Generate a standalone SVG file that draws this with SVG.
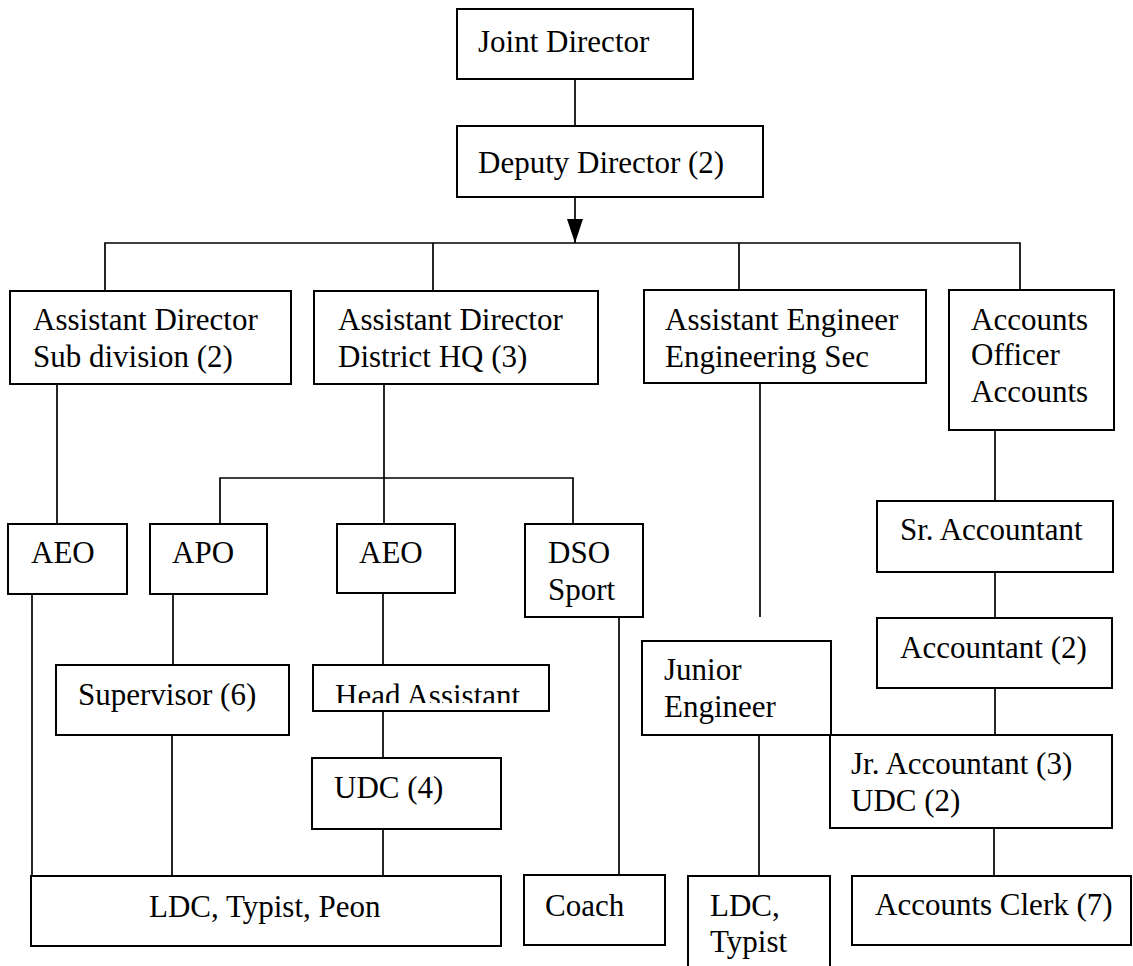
<svg xmlns="http://www.w3.org/2000/svg" width="1133" height="966" viewBox="0 0 1133 966">
<style>
.box{fill:#fff;stroke:#000;stroke-width:2}
.t{font-family:"Liberation Serif","Times New Roman",serif;font-size:31px;fill:#000}
.c{fill:none;stroke:#000;stroke-width:1.7}
</style>
<defs>
<marker id="arr" viewBox="0 0 24 16" refX="24" refY="8" markerWidth="24" markerHeight="16" markerUnits="userSpaceOnUse" orient="auto">
<path d="M0,0 L24,8 L0,16 z" fill="#000"/>
</marker>
<clipPath id="haclip"><rect x="313" y="665" width="236" height="38"/></clipPath>
</defs>
<rect width="1133" height="966" fill="#fff"/>
<g id="connectors">
<path class="c" d="M575,79 V126"/>
<path class="c" d="M575,197 V243" marker-end="url(#arr)"/>
<path class="c" d="M105,291 V243 H1020 V290"/>
<path class="c" d="M433,243 V291"/>
<path class="c" d="M739,243 V290"/>
<path class="c" d="M57,384 V524"/>
<path class="c" d="M384,384 V524"/>
<path class="c" d="M220,524 V478 H573 V524"/>
<path class="c" d="M760,383 V617"/>
<path class="c" d="M995,430 V501"/>
<path class="c" d="M995,572 V618"/>
<path class="c" d="M995,688 V735"/>
<path class="c" d="M994,828 V876"/>
<path class="c" d="M32,594 V876"/>
<path class="c" d="M173,594 V665"/>
<path class="c" d="M172,735 V876"/>
<path class="c" d="M383,593 V665"/>
<path class="c" d="M383,711 V758"/>
<path class="c" d="M383,829 V876"/>
<path class="c" d="M619,617 V875"/>
<path class="c" d="M759,735 V876"/>
</g>
<g id="joint-director"><rect class="box" x="457" y="9" width="236" height="70"/><text class="t" x="478" y="52">Joint Director</text></g>
<g id="deputy-director"><rect class="box" x="457" y="126" width="306" height="71"/><text class="t" x="478" y="173">Deputy Director (2)</text></g>
<g id="ad-subdivision"><rect class="box" x="10" y="291" width="281" height="93"/><text class="t" x="33" y="330">Assistant Director</text><text class="t" x="33" y="367">Sub division (2)</text></g>
<g id="ad-district"><rect class="box" x="314" y="291" width="284" height="93"/><text class="t" x="338" y="330">Assistant Director</text><text class="t" x="338" y="367">District HQ (3)</text></g>
<g id="ae-engineering"><rect class="box" x="644" y="290" width="282" height="93"/><text class="t" x="665" y="330">Assistant Engineer</text><text class="t" x="665" y="367">Engineering Sec</text></g>
<g id="accounts-officer"><rect class="box" x="949" y="290" width="165" height="140"/><text class="t" x="971" y="330">Accounts</text><text class="t" x="971" y="365">Officer</text><text class="t" x="971" y="402">Accounts</text></g>
<g id="aeo-1"><rect class="box" x="8" y="524" width="119" height="70"/><text class="t" x="31" y="563">AEO</text></g>
<g id="apo"><rect class="box" x="150" y="524" width="117" height="70"/><text class="t" x="172" y="563">APO</text></g>
<g id="aeo-2"><rect class="box" x="337" y="524" width="118" height="69"/><text class="t" x="359" y="563">AEO</text></g>
<g id="dso-sport"><rect class="box" x="525" y="524" width="118" height="93"/><text class="t" x="548" y="563">DSO</text><text class="t" x="548" y="600">Sport</text></g>
<g id="sr-accountant"><rect class="box" x="877" y="501" width="236" height="71"/><text class="t" x="900" y="540">Sr. Accountant</text></g>
<g id="accountant"><rect class="box" x="877" y="618" width="235" height="70"/><text class="t" x="900" y="658">Accountant (2)</text></g>
<g id="supervisor"><rect class="box" x="56" y="665" width="233" height="70"/><text class="t" x="78" y="705">Supervisor (6)</text></g>
<g id="head-assistant"><rect class="box" x="313" y="665" width="236" height="46"/><text class="t" x="335" y="706" clip-path="url(#haclip)">Head Assistant</text></g>
<g id="udc-4"><rect class="box" x="312" y="758" width="189" height="71"/><text class="t" x="334" y="798">UDC (4)</text></g>
<g id="junior-engineer"><rect class="box" x="642" y="641" width="189" height="94"/><text class="t" x="664" y="680">Junior</text><text class="t" x="664" y="717">Engineer</text></g>
<g id="jr-accountant"><rect class="box" x="830" y="735" width="282" height="93"/><text class="t" x="851" y="774">Jr. Accountant (3)</text><text class="t" x="851" y="811">UDC (2)</text></g>
<g id="ldc-typist-peon"><rect class="box" x="31" y="876" width="470" height="70"/><text class="t" x="149" y="917">LDC, Typist, Peon</text></g>
<g id="coach"><rect class="box" x="524" y="875" width="141" height="70"/><text class="t" x="545" y="916">Coach</text></g>
<g id="ldc-typist"><rect class="box" x="688" y="876" width="142" height="104"/><text class="t" x="710" y="916">LDC,</text><text class="t" x="710" y="952">Typist</text></g>
<g id="accounts-clerk"><rect class="box" x="852" y="876" width="279" height="69"/><text class="t" x="875" y="915">Accounts Clerk (7)</text></g>
</svg>
